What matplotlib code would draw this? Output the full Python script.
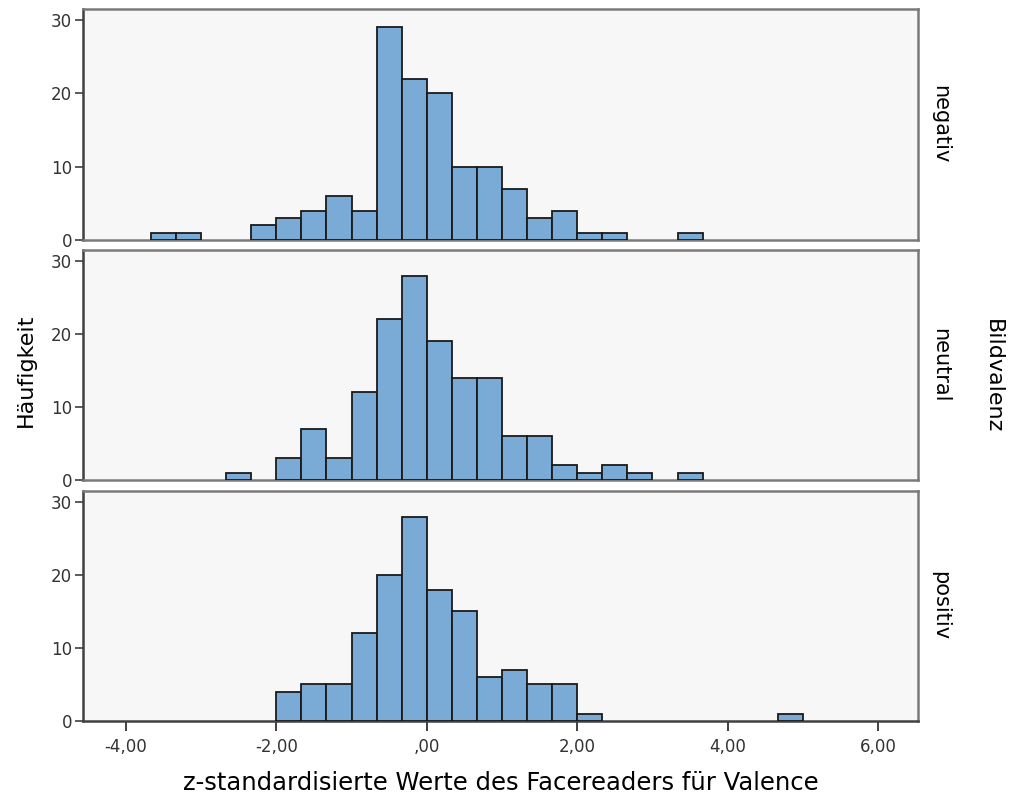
import matplotlib.pyplot as plt
import numpy as np

# Klassen: Breite 1/3, erste Klasse beginnt bei -11/3
bin_start = -11
bin_width = 1 / 3

panels = ["negativ", "neutral", "positiv"]

counts_negativ = [1, 1, 0, 0, 2, 3, 4, 6, 4, 29, 22, 20, 10, 10, 7, 3, 4, 1, 1, 0, 0, 1, 0, 0, 0, 0]
counts_neutral = [0, 0, 0, 1, 0, 3, 7, 3, 12, 22, 28, 19, 14, 14, 6, 6, 2, 1, 2, 1, 0, 1, 0, 0, 0, 0]
counts_positiv = [0, 0, 0, 0, 0, 4, 5, 5, 12, 20, 28, 18, 15, 6, 7, 5, 5, 1, 0, 0, 0, 0, 0, 0, 0, 1]

x_ticks = [-4, -2, 0, 2, 4, 6]
y_ticks = [0, 10, 20, 30]


def fmt(v):
    s = f"{v:.2f}".replace(".", ",")
    if s.startswith("0"):
        s = s[1:]
    return s


fig = plt.figure(figsize=(10.11, 8), dpi=100)
plt.rcParams['font.family'] = 'DejaVu Sans'

left, width = 83 / 1011, (918 - 83) / 1011
rows = [(9, 240), (250, 480), (491, 721)]
all_counts = [counts_negativ, counts_neutral, counts_positiv]

for i, (name, counts) in enumerate(zip(panels, all_counts)):
    top, bottom = rows[i]
    ax = fig.add_axes([left, 1 - bottom / 800, width, (bottom - top) / 800])
    edges = (bin_start + np.arange(len(counts))) * bin_width
    c = np.array(counts)
    m = c > 0
    ax.bar(edges[m], c[m], width=bin_width, align="edge",
           color="#7aaad6", edgecolor="#1a1a1a", linewidth=1.3, zorder=3)
    ax.set_facecolor("#f7f7f7")
    ax.set_xlim(-4.57, 6.53)
    ax.set_ylim(0, 31.5)
    ax.set_yticks(y_ticks)
    ax.set_yticklabels([str(v) for v in y_ticks], fontsize=12, color="#333333")
    for s in ax.spines.values():
        s.set_color("#7a7a7a")
        s.set_linewidth(1.8)
    ax.spines["left"].set_color("#404040")
    ax.tick_params(axis="y", direction="out", length=6, width=1.2, color="#404040", pad=2)
    if i < 2:
        ax.tick_params(axis="x", length=0, labelbottom=False)
    else:
        ax.spines["bottom"].set_color("#404040")
        ax.set_xticks(x_ticks)
        ax.set_xticklabels([fmt(v) for v in x_ticks], fontsize=12, color="#333333")
        ax.tick_params(axis="x", direction="out", length=7, width=1.4, color="#404040", pad=5)
    ax.text(1.026, 0.5, name, transform=ax.transAxes, rotation=-90,
            ha="center", va="center", fontsize=15)

fig.text(0.026, 0.5375, "Häufigkeit", rotation=90, ha="center", va="center", fontsize=16)
fig.text(0.982, 0.53, "Bildvalenz", rotation=-90, ha="center", va="center", fontsize=16)
fig.text(0.495, 0.021, "z-standardisierte Werte des Facereaders für Valence",
         ha="center", va="center", fontsize=17.5)

plt.savefig("out.png", dpi=100)
